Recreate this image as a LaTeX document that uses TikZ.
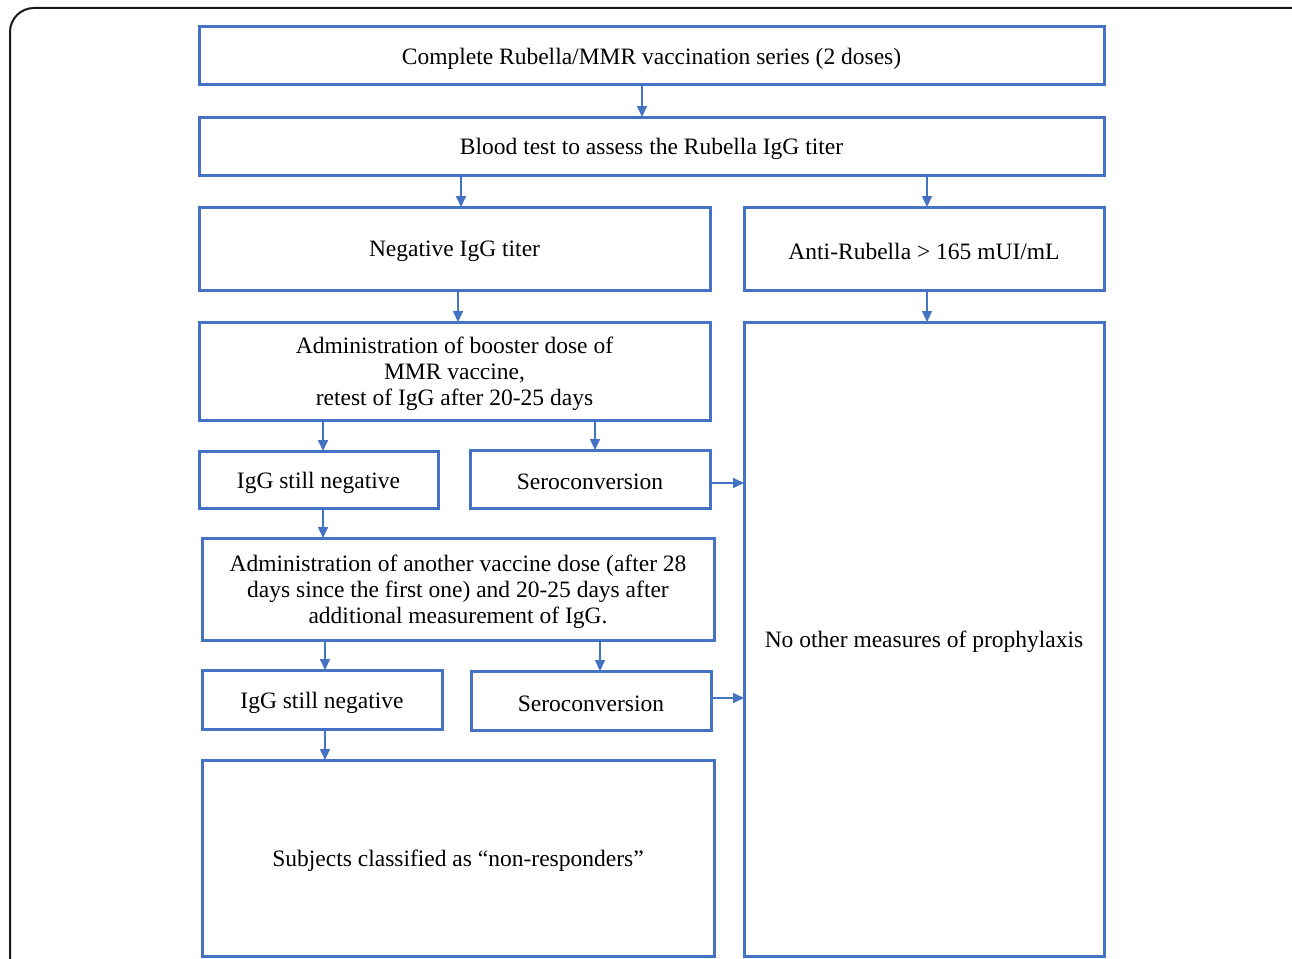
\documentclass[tikz,border=0pt]{standalone}
\usepackage{fontspec}
\setmainfont{Liberation Serif}
\usetikzlibrary{arrows.meta}
\definecolor{bblue}{HTML}{4472C4}
\begin{document}
\begin{tikzpicture}[x=1pt,y=-1pt,
  box/.style={draw=bblue, line width=3pt, inner sep=0pt, outer sep=0pt},
  txt/.style={align=center, inner sep=0pt, yshift=-3pt, font=\fontsize{23.5}{26}\selectfont},
  arr/.style={draw=bblue, line width=1.6pt, -{Triangle[length=11pt,width=10pt]}}]
\useasboundingbox (0,0) rectangle (1292,958);
\begin{scope}
\clip (0,0) rectangle (1292,958);
\draw[line width=2pt, black!90, rounded corners=24pt] (10,8) rectangle (1330,1000);
\end{scope}
% helper coordinates
\coordinate (xa) at (642,0);
\coordinate (xb) at (461,0);
\coordinate (xc) at (927,0);
\coordinate (xd) at (458,0);
\coordinate (xe) at (323,0);
\coordinate (xf) at (595,0);
\coordinate (xg) at (325,0);
\coordinate (xh) at (600,0);
\coordinate (ya) at (0,483);
\coordinate (yb) at (0,698);
% boxes
\node[box, minimum width=905pt, minimum height=57pt, label={[txt]center:Complete Rubella/MMR vaccination series (2 doses)}] (top) at (651.5,55.5) {};
\node[box, minimum width=905pt, minimum height=58pt, label={[txt]center:Blood test to assess the Rubella IgG titer}] (blood) at (651.5,146) {};
\node[box, minimum width=511pt, minimum height=83pt, label={[txt]center:Negative IgG titer}] (neg) at (454.5,248.5) {};
\node[box, minimum width=360pt, minimum height=83pt, label={[txt]center:Anti-Rubella > 165 mUI/mL}] (anti) at (924,248.5) {};
\node[box, minimum width=511pt, minimum height=98pt, label={[txt]center:{Administration of booster dose of\\MMR vaccine,\\retest of IgG after 20-25 days}}] (adm) at (454.5,371) {};
\node[box, minimum width=239pt, minimum height=57pt, label={[txt]center:IgG still negative}] (ign1) at (318.5,479.5) {};
\node[box, minimum width=240pt, minimum height=58pt, label={[txt]center:Seroconversion}] (ser1) at (590,479) {};
\node[box, minimum width=512pt, minimum height=102pt, label={[txt]center:{Administration of another vaccine dose (after 28\\days since the first one) and 20-25 days after\\additional measurement of IgG.}}] (adm2) at (458,589) {};
\node[box, minimum width=240pt, minimum height=59pt, label={[txt]center:IgG still negative}] (ign2) at (322,699.5) {};
\node[box, minimum width=240pt, minimum height=59pt, label={[txt]center:Seroconversion}] (ser2) at (591,700.5) {};
\node[box, minimum width=512pt, minimum height=196pt, label={[txt]center:Subjects classified as “non-responders”}] (subj) at (458,858) {};
\node[box, minimum width=360pt, minimum height=634pt, label={[txt]center:No other measures of prophylaxis}] (noo) at (924,639) {};
% arrows
\draw[arr] (top.south -| xa) -- (blood.north -| xa);
\draw[arr] (blood.south -| xb) -- (neg.north -| xb);
\draw[arr] (blood.south -| xc) -- (anti.north -| xc);
\draw[arr] (neg.south -| xd) -- (adm.north -| xd);
\draw[arr] (anti.south -| xc) -- (noo.north -| xc);
\draw[arr] (adm.south -| xe) -- (ign1.north -| xe);
\draw[arr] (adm.south -| xf) -- (ser1.north -| xf);
\draw[arr] (ign1.south -| xe) -- (adm2.north -| xe);
\draw[arr] (ser1.east |- ya) -- (noo.west |- ya);
\draw[arr] (adm2.south -| xg) -- (ign2.north -| xg);
\draw[arr] (adm2.south -| xh) -- (ser2.north -| xh);
\draw[arr] (ser2.east |- yb) -- (noo.west |- yb);
\draw[arr] (ign2.south -| xg) -- (subj.north -| xg);
\end{tikzpicture}
\end{document}
